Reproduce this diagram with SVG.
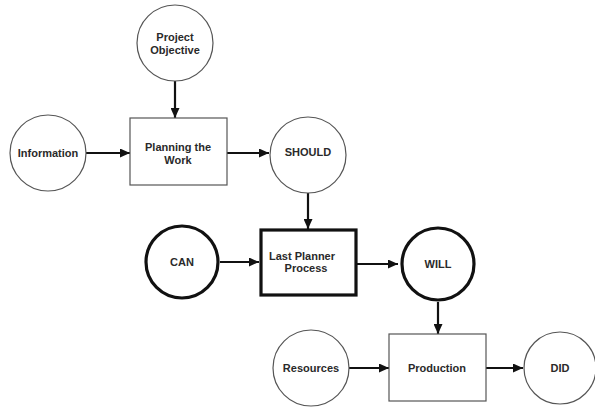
<svg xmlns="http://www.w3.org/2000/svg" width="595" height="408" viewBox="0 0 595 408">
<style>
.thin{fill:#fff;stroke:#555;stroke-width:1.2}
.thick{fill:#fff;stroke:#111;stroke-width:3.2}
.lbl{font-family:"Liberation Sans",Arial,sans-serif;font-weight:bold;font-size:11px;fill:#2a2a2a;text-anchor:middle}
.con{stroke:#111;stroke-width:2.2;fill:none;marker-end:url(#ah)}
</style>
<defs>
<marker id="ah" markerWidth="10" markerHeight="9" refX="10" refY="4.5" orient="auto" markerUnits="userSpaceOnUse">
<path d="M0,0 L10,4.5 L0,9 Z" fill="#111"/>
</marker>
</defs>
<rect width="595" height="408" fill="#fff"/>
<g id="connectors">
<line class="con" x1="175" y1="81" x2="175" y2="118"/>
<line class="con" x1="86" y1="153" x2="130" y2="153"/>
<line class="con" x1="227" y1="153" x2="269" y2="153"/>
<line class="con" x1="308" y1="193" x2="308" y2="229"/>
<line class="con" x1="220" y1="262" x2="259" y2="262"/>
<line class="con" x1="357" y1="264" x2="398" y2="264"/>
<line class="con" x1="438" y1="302" x2="438" y2="334"/>
<line class="con" x1="349" y1="368" x2="389" y2="368"/>
<line class="con" x1="486" y1="368" x2="523" y2="368"/>
</g>
<g id="project-objective">
<circle class="thin" cx="175" cy="43" r="38"/>
<text class="lbl" x="175" y="41">Project</text>
<text class="lbl" x="175" y="54">Objective</text>
</g>
<g id="information">
<circle class="thin" cx="48" cy="153" r="38"/>
<text class="lbl" x="48" y="157">Information</text>
</g>
<g id="planning-the-work">
<rect class="thin" x="130" y="118" width="97" height="67"/>
<text class="lbl" x="178" y="151">Planning the</text>
<text class="lbl" x="178" y="164">Work</text>
</g>
<g id="should">
<circle class="thin" cx="308" cy="155" r="38"/>
<text class="lbl" x="308" y="156">SHOULD</text>
</g>
<g id="can">
<circle class="thick" cx="182" cy="262" r="36"/>
<text class="lbl" x="182" y="266">CAN</text>
</g>
<g id="last-planner-process">
<rect class="thick" x="261" y="230" width="95" height="65"/>
<text class="lbl" x="302" y="260">Last Planner</text>
<text class="lbl" x="306" y="272">Process</text>
</g>
<g id="will">
<circle class="thick" cx="438" cy="264" r="36"/>
<text class="lbl" x="438" y="268">WILL</text>
</g>
<g id="resources">
<circle class="thin" cx="311" cy="368" r="38"/>
<text class="lbl" x="311" y="372">Resources</text>
</g>
<g id="production">
<rect class="thin" x="389" y="334" width="97" height="67"/>
<text class="lbl" x="437" y="372">Production</text>
</g>
<g id="did">
<circle class="thin" cx="560" cy="368" r="36"/>
<text class="lbl" x="560" y="372">DID</text>
</g>
</svg>
